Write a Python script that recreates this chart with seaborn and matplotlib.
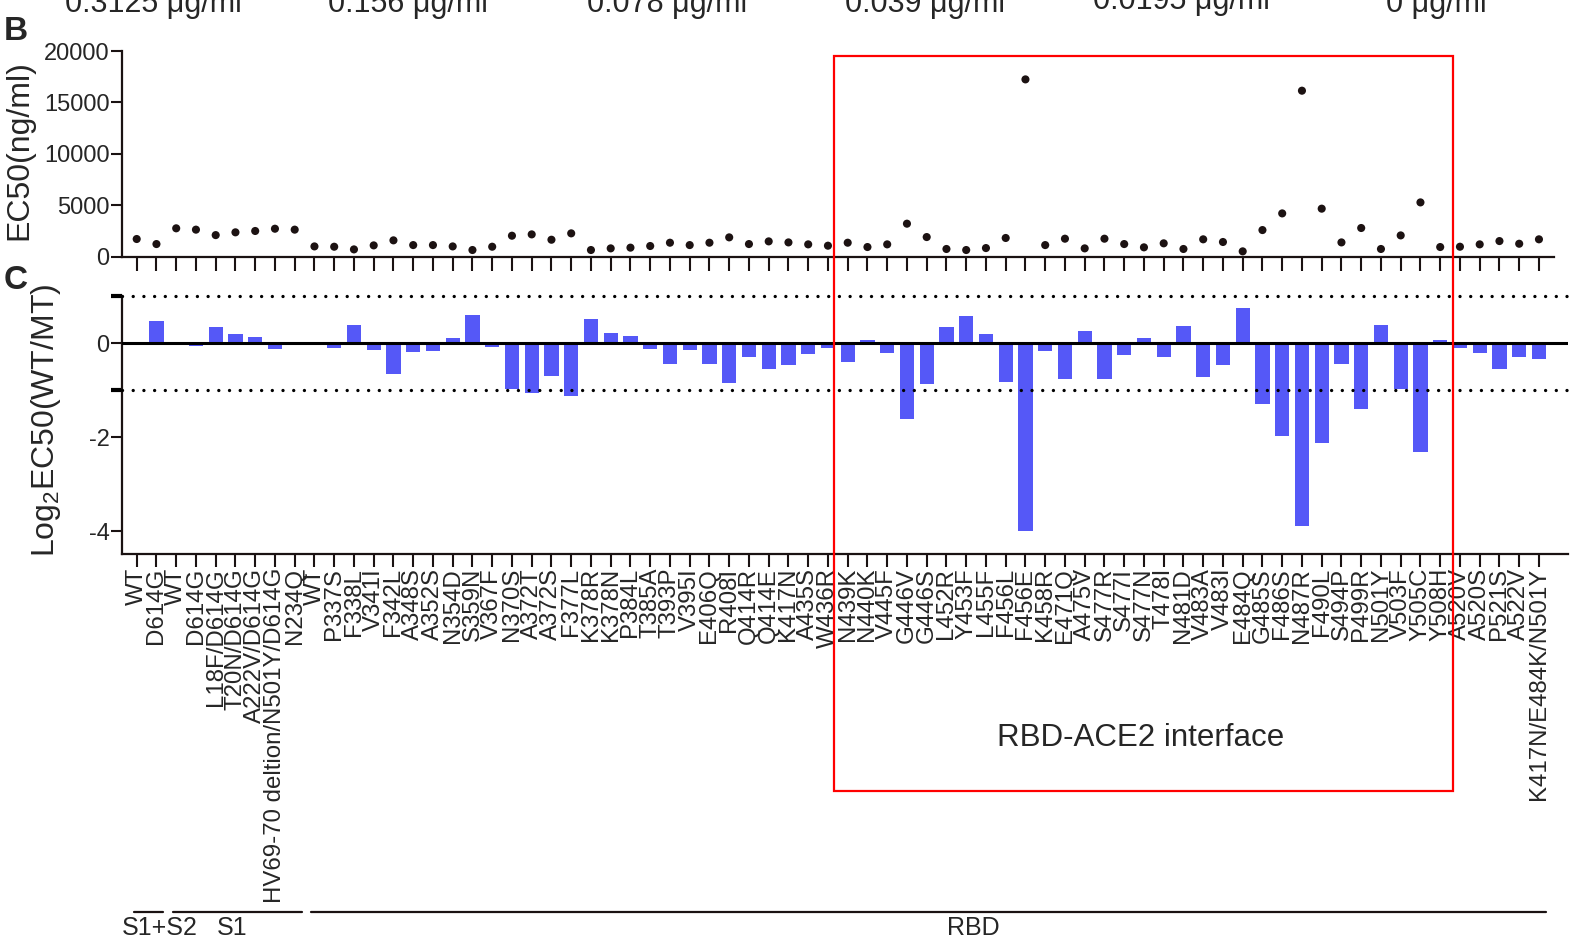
import matplotlib
matplotlib.use("Agg")
import matplotlib.pyplot as plt
import seaborn as sns
import pandas as pd
import numpy as np
from matplotlib.patches import Rectangle
from matplotlib.lines import Line2D
import matplotlib.transforms as mtransforms

# ---------------- data ----------------
mutants = [
    "WT", "D614G", "WT", "D614G", "L18F/D614G", "T20N/D614G", "A222V/D614G",
    "HV69-70 deltion/N501Y/D614G", "N234Q", "WT", "P337S", "F338L", "V341I",
    "F342L", "A348S", "A352S", "N354D", "S359N", "V367F", "N370S", "A372T",
    "A372S", "F377L", "K378R", "K378N", "P384L", "T385A", "T393P", "V395I",
    "E406Q", "R408I", "Q414R", "Q414E", "K417N", "A435S", "W436R", "N439K",
    "N440K", "V445F", "G446V", "G446S", "L452R", "Y453F", "L455F", "F456L",
    "F456E", "K458R", "E471Q", "A475V", "S477R", "S477I", "S477N", "T478I",
    "N481D", "V483A", "V483I", "E484Q", "G485S", "F486S", "N487R", "F490L",
    "S494P", "P499R", "N501Y", "V503F", "Y505C", "Y508H", "A520V", "A520S",
    "P521S", "A522V", "K417N/E484K/N501Y",
]

ec50 = [
    1720, 1230, 2760, 2630, 2100, 2370, 2500, 2720, 2630, 1000,
    970, 710, 1100, 1590, 1130, 1130, 1000, 650, 970, 2040,
    2170, 1650, 2270, 650, 810, 880, 1040, 1360, 1130, 1360,
    1880, 1230, 1490, 1390, 1200, 1070, 1360, 940, 1200, 3210,
    1910, 750, 650, 840, 1820, 17240, 1130, 1750, 810, 1750,
    1230, 910, 1300, 750, 1690, 1430, 520, 2590, 4210, 16140,
    4670, 1390, 2790, 750, 2070, 5280, 940, 970, 1200, 1520,
    1260, 1690,
]

log2_ratio = [
    0.0, 0.47, 0.0, -0.05, 0.36, 0.19, 0.13, -0.11, -0.04, 0.0,
    -0.10, 0.40, -0.14, -0.65, -0.18, -0.16, 0.11, 0.60, -0.08, -0.98,
    -1.06, -0.70, -1.12, 0.52, 0.23, 0.15, -0.12, -0.43, -0.15, -0.44,
    -0.85, -0.29, -0.55, -0.46, -0.23, -0.10, -0.40, 0.08, -0.21, -1.61,
    -0.87, 0.35, 0.58, 0.21, -0.82, -3.99, -0.16, -0.75, 0.26, -0.75,
    -0.24, 0.11, -0.29, 0.38, -0.71, -0.47, 0.76, -1.30, -1.97, -3.89,
    -2.12, -0.44, -1.40, 0.40, -0.98, -2.31, 0.08, -0.09, -0.21, -0.55,
    -0.30, -0.33,
]

concentrations = ["0.3125 μg/ml", "0.156 μg/ml", "0.078 μg/ml",
                  "0.039 μg/ml", "0.0195 μg/ml", "0 μg/ml"]
regions = ["S1+S2", "S1", "RBD"]
region_first = [0, 2, 9]     # first mutant index of each region
region_last = [1, 8, 71]     # last mutant index of each region
ec50_ticks = [0, 5000, 10000, 15000, 20000]
ratio_ticks = [0, -2, -4]
interface_label = "RBD-ACE2 interface"

df = pd.DataFrame({"pos": np.arange(len(mutants)), "mutant": mutants,
                   "ec50": ec50, "ratio": log2_ratio})

# ---------------- style ----------------
sns.set_style("ticks")
plt.rcParams["font.family"] = ["Liberation Sans", "DejaVu Sans"]
plt.rcParams["mathtext.fontset"] = "custom"
plt.rcParams["mathtext.rm"] = "Liberation Sans"
plt.rcParams["axes.linewidth"] = 1.6
plt.rcParams["axes.edgecolor"] = "#1a1212"

W, H = 1576, 939
fig = plt.figure(figsize=(W / 100, H / 100), dpi=100)

def fx(px):
    return px / W

def fy(py):
    return 1 - py / H

step = 19.75
x0px = 136.7
left_px = 122
xl = (left_px - x0px) / step

# ---------------- panel B ----------------
axB = fig.add_axes([fx(left_px), fy(256.7), fx(1554 - left_px), (256.7 - 51) / H])
sns.scatterplot(data=df, x="pos", y="ec50", ax=axB, color="#1c1212",
                s=34, edgecolor="none", legend=False, clip_on=False)
axB.set_xlim(xl, xl + (1554 - left_px) / step)
axB.set_ylim(0, 20000)
axB.set_xticks(df["pos"])
axB.set_xticklabels([])
axB.set_yticks(ec50_ticks)
axB.set_yticklabels([str(t) for t in ec50_ticks], fontsize=17)
axB.tick_params(axis="x", length=10, width=1.5, color="#1a1212")
axB.tick_params(axis="y", length=8, width=1.5, color="#1a1212", pad=1)
axB.set_xlabel("")
axB.set_ylabel("")
sns.despine(ax=axB)
fig.text(fx(19), fy(150), "EC50(ng/ml)", rotation=90, ha="center",
         va="center", fontsize=23)

# ---------------- panel C ----------------
axC = fig.add_axes([fx(left_px), fy(554), fx(1568 - left_px), (554 - 296.5) / H])
sns.barplot(data=df, x="pos", y="ratio", ax=axC, native_scale=True,
            color="#5558f7", saturation=1, width=0.72, linewidth=0)
axC.set_xlim(xl, xl + (1568 - left_px) / step)
axC.set_ylim(-4.49, 1.0)
axC.axhline(0, color="black", lw=2.2, zorder=3)
for yv in (1, -1):
    axC.axhline(yv, color="black", lw=2.4, linestyle=(0, (0.01, 3.2)),
                dash_capstyle="round", clip_on=False, zorder=3)
axC.set_xticks(df["pos"])
axC.set_xticklabels(mutants, rotation=90, fontsize=17.3)
axC.set_yticks(ratio_ticks)
axC.set_yticklabels([str(t) for t in ratio_ticks], fontsize=17)
axC.set_yticks([1, -1], minor=True)
axC.tick_params(axis="x", length=9, width=1.5, color="#1a1212", pad=1)
axC.tick_params(axis="y", which="major", length=8, width=1.5, color="#1a1212", pad=1)
axC.tick_params(axis="y", which="minor", length=8, width=3, color="black")
axC.set_xlabel("")
axC.set_ylabel("")
sns.despine(ax=axC)
fig.text(fx(46), fy(420), r"Log$_\mathregular{2}$EC50(WT/MT)", rotation=90,
         ha="center", va="center", fontsize=23)

# ---------------- region lines ----------------
trans = mtransforms.blended_transform_factory(axC.transData, fig.transFigure)
label_x = [1.15, 4.85, 42.35]
for name, a, b, lx in zip(regions, region_first, region_last, label_x):
    fig.add_artist(Line2D([a - 0.15, b + 0.35], [fy(911.5), fy(911.5)],
                          transform=trans, color="#1a1212", lw=1.6))
    fig.text(lx, fy(935), name, transform=trans, ha="center", va="baseline",
             fontsize=18)

# ---------------- red interface box ----------------
fig.add_artist(Rectangle((fx(834), fy(791)), fx(1453 - 834), (791 - 56) / H,
                         transform=fig.transFigure, fill=False,
                         edgecolor="#ff0000", lw=1.6, zorder=10))
fig.text(fx(1141), fy(738), interface_label, ha="center", va="center",
         fontsize=22.5)

# ---------------- panel letters and top texts ----------------
fig.text(fx(4), fy(40), "B", fontsize=24, fontweight="bold", va="baseline")
fig.text(fx(4), fy(289), "C", fontsize=24, fontweight="bold", va="baseline")
conc_x = [153, 408, 667, 925, 1181, 1436]
conc_y = [12, 12, 12, 12, 9, 12]
for t, cx, cy in zip(concentrations, conc_x, conc_y):
    fig.text(fx(cx), fy(cy), t, ha="center", va="baseline", fontsize=22)

fig.savefig("out.png", dpi=100)
